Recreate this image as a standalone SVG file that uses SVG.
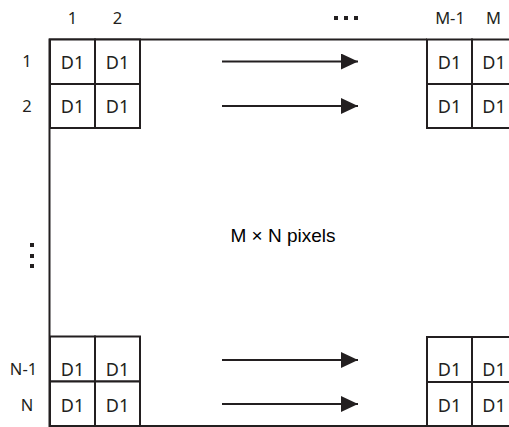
<svg xmlns="http://www.w3.org/2000/svg" width="509" height="427" viewBox="0 0 509 427">
<style>
.ln{stroke:#231f20;stroke-width:2;fill:none}
.cell{stroke:#231f20;stroke-width:2;fill:#fff}
.t{font-family:"Noto Sans","Open Sans",sans-serif;font-size:18px;fill:#231f20;text-anchor:middle}
.lab{font-family:"Noto Sans","Open Sans",sans-serif;font-size:16.5px;fill:#231f20;text-anchor:middle}
.c{font-family:"Liberation Sans",Arial,sans-serif;font-size:19px;fill:#000;text-anchor:middle}
.dot{fill:#231f20}
</style>
<defs>
<marker id="ah" markerWidth="9" markerHeight="8" refX="8.5" refY="4" orient="auto" markerUnits="strokeWidth"><path d="M0,0 L8.5,4 L0,8 Z" fill="#231f20"/></marker>
</defs>
<g id="frame">
<path class="ln" d="M427,39.5 H49.5 V426 H427"/>
</g>
<g id="grid-top-left">
<rect class="cell" x="50" y="39.5" width="45" height="44.5"/>
<rect class="cell" x="95" y="39.5" width="45" height="44.5"/>
<rect class="cell" x="50" y="84" width="45" height="44"/>
<rect class="cell" x="95" y="84" width="45" height="44"/>
<text class="t" x="72.5" y="68.5">D1</text><text class="t" x="117.5" y="68.5">D1</text>
<text class="t" x="72.5" y="112.5">D1</text><text class="t" x="117.5" y="112.5">D1</text>
</g>
<g id="grid-top-right">
<rect class="cell" x="427" y="39.5" width="45" height="44.5"/>
<rect class="cell" x="472" y="39.5" width="45" height="44.5"/>
<rect class="cell" x="427" y="84" width="45" height="44"/>
<rect class="cell" x="472" y="84" width="45" height="44"/>
<text class="t" x="449.5" y="68.5">D1</text><text class="t" x="494" y="68.5">D1</text>
<text class="t" x="449.5" y="112.5">D1</text><text class="t" x="494" y="112.5">D1</text>
</g>
<g id="grid-bottom-left">
<rect class="cell" x="50" y="336.5" width="45" height="45"/>
<rect class="cell" x="95" y="336.5" width="45" height="45"/>
<rect class="cell" x="50" y="381.5" width="45" height="44.5"/>
<rect class="cell" x="95" y="381.5" width="45" height="44.5"/>
<text class="t" x="72.5" y="376">D1</text><text class="t" x="117.5" y="376">D1</text>
<text class="t" x="72.5" y="411.5">D1</text><text class="t" x="117.5" y="411.5">D1</text>
</g>
<g id="grid-bottom-right">
<rect class="cell" x="427" y="337" width="45" height="45"/>
<rect class="cell" x="472" y="337" width="45" height="45"/>
<rect class="cell" x="427" y="382" width="45" height="44"/>
<rect class="cell" x="472" y="382" width="45" height="44"/>
<text class="t" x="449.5" y="376">D1</text><text class="t" x="494" y="376">D1</text>
<text class="t" x="449.5" y="411.5">D1</text><text class="t" x="494" y="411.5">D1</text>
</g>
<g id="connectors">
<line class="ln" x1="222" y1="61.5" x2="358" y2="61.5" marker-end="url(#ah)"/>
<line class="ln" x1="222" y1="106" x2="358" y2="106" marker-end="url(#ah)"/>
<line class="ln" x1="222" y1="360" x2="358" y2="360" marker-end="url(#ah)"/>
<line class="ln" x1="222" y1="404" x2="358" y2="404" marker-end="url(#ah)"/>
</g>
<g id="labels">
<text class="lab" x="72.5" y="23.5">1</text>
<text class="lab" x="117.5" y="23.5">2</text>
<text class="lab" x="450" y="23.5">M-1</text>
<text class="lab" x="493.5" y="23.5">M</text>
<rect class="dot" x="334" y="16" width="4" height="4"/>
<rect class="dot" x="344" y="16" width="4" height="4"/>
<rect class="dot" x="354" y="16" width="4" height="4"/>
<text class="lab" x="27" y="67">1</text>
<text class="lab" x="27" y="112">2</text>
<text class="lab" x="23.5" y="375">N-1</text>
<text class="lab" x="27" y="411">N</text>
<rect class="dot" x="30" y="243" width="4" height="4"/>
<rect class="dot" x="30" y="254" width="4" height="4"/>
<rect class="dot" x="30" y="264" width="4" height="4"/>
</g>
<g id="center">
<text class="c" x="283" y="242">M × N pixels</text>
</g>
</svg>
